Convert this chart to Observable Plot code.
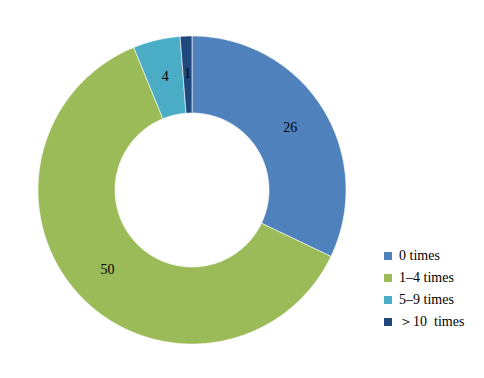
<!DOCTYPE html>
<html>
<head>
<meta charset="utf-8">
<script src="https://cdn.jsdelivr.net/npm/d3@7"></script>
<script src="https://cdn.jsdelivr.net/npm/@observablehq/plot@0.6"></script>
<style>
  html, body { margin: 0; padding: 0; background: #fff; font-family: "Liberation Serif", serif; }
  #wrap { position: relative; width: 484px; height: 378px; overflow: hidden; }
  #legend { position: absolute; left: 384px; top: 245px; font-family: "Liberation Serif", serif; font-size: 14px; color: #000; }
  .row { height: 22px; display: flex; align-items: center; white-space: pre; }
  .sw { width: 8px; height: 8px; margin-right: 7px; flex: none; }
</style>
</head>
<body>
<div id="wrap"><div id="chart"></div><div id="legend"></div></div>
<script>
const categories = ["0 times", "1–4 times", "5–9 times", "＞10  times"];
const values = [26, 50, 4, 1];
const colors = ["#4F81BD", "#9BBB59", "#4BACC6", "#1F497D"];
const innerRatio = 0.5;

const total = d3.sum(values);
let acc = 0;
const slices = categories.map((c, i) => {
  const a0 = acc / total * 2 * Math.PI;
  acc += values[i];
  const a1 = acc / total * 2 * Math.PI;
  return {c, v: values[i], a0, a1};
});
const pts = [];
for (const s of slices) {
  const n = Math.max(2, Math.ceil((s.a1 - s.a0) / (Math.PI / 360)));
  for (let k = 0; k <= n; k++) {
    const a = s.a0 + (s.a1 - s.a0) * k / n;
    pts.push({c: s.c, x: Math.sin(a), y: Math.cos(a)});
  }
  for (let k = n; k >= 0; k--) {
    const a = s.a0 + (s.a1 - s.a0) * k / n;
    pts.push({c: s.c, x: innerRatio * Math.sin(a), y: innerRatio * Math.cos(a)});
  }
  const a = s.a0; pts.push({c: s.c, x: Math.sin(a), y: Math.cos(a)});
}
const labelR = 0.755;
const labels = slices.map(s => {
  const m = (s.a0 + s.a1) / 2;
  return {c: s.c, v: s.v, x: labelR * Math.sin(m), y: labelR * Math.cos(m)};
});

const cx = 191.5, cy = 189.5, R = 154;
const chart = Plot.plot({
  width: 484, height: 378,
  margin: 0,
  x: {domain: [-1, 1], range: [cx - R, cx + R], axis: null},
  y: {domain: [-1, 1], range: [cy + R, cy - R], axis: null},
  color: {domain: categories, range: colors},
  style: {background: "#fff"},
  marks: [
    Plot.line(pts, {x: "x", y: "y", z: "c", fill: "c", stroke: "#fff", strokeWidth: 0.6, curve: "linear"}),
    Plot.text(labels, {x: "x", y: "y", text: d => String(d.v), fontSize: 14, fontFamily: "Liberation Serif", fill: "#000"})
  ]
});
document.getElementById("chart").appendChild(chart);

const leg = document.getElementById("legend");
categories.forEach((c, i) => {
  const row = document.createElement("div");
  row.className = "row";
  const sw = document.createElement("div");
  sw.className = "sw";
  sw.style.background = colors[i];
  const t = document.createElement("span");
  t.style.fontFamily = "'Liberation Serif', serif";
  t.textContent = c;
  row.appendChild(sw); row.appendChild(t);
  leg.appendChild(row);
});
</script>
</body>
</html>
